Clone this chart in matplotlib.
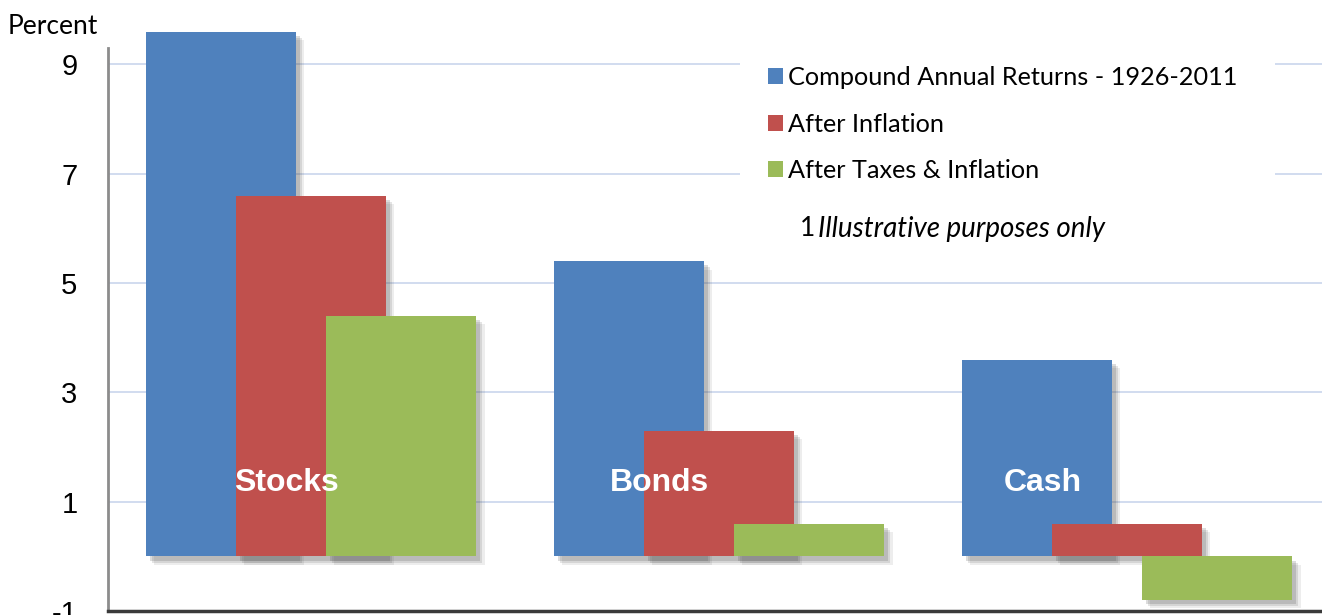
import matplotlib
matplotlib.use("Agg")
import matplotlib.pyplot as plt
import matplotlib.patheffects as pe
from matplotlib.patches import Rectangle
import numpy as np

categories = ["Stocks", "Bonds", "Cash"]
series_names = ["Compound Annual Returns - 1926-2011", "After Inflation", "After Taxes & Inflation"]
nominal = [9.6, 5.4, 3.6]
after_inflation = [6.6, 2.3, 0.6]
after_tax_inflation = [4.4, 0.6, -0.8]
yticks = [-1, 1, 3, 5, 7, 9]
note = "Illustrative purposes only"

colors = ["#4F81BD", "#C0504D", "#9BBB59"]

fig = plt.figure(figsize=(13.22, 6.15), dpi=100)
ax = fig.add_axes([108 / 1322, 4 / 615, 1 - 108 / 1322, 563 / 615])

x = np.arange(len(categories))
offset = 0.221
width = 0.368
shadow = [pe.SimplePatchShadow(offset=(6, -6), shadow_rgbFace="#505050", alpha=0.10),
          pe.SimplePatchShadow(offset=(4.5, -4.5), shadow_rgbFace="#505050", alpha=0.15),
          pe.SimplePatchShadow(offset=(3, -3), shadow_rgbFace="#505050", alpha=0.2),
          pe.Normal()]
handles = []
for i, (vals, name) in enumerate(zip([nominal, after_inflation, after_tax_inflation], series_names)):
    bars = ax.bar(x + (i - 1) * offset, vals, width=width, color=colors[i], label=name,
                  zorder=2 + i, clip_on=False)
    for b in bars:
        b.set_path_effects(shadow)
    handles.append(bars)

ax.set_xlim(-0.4975, 2.478)
ax.set_ylim(-1, 9.3)
ax.set_yticks(yticks)
ax.set_yticklabels([str(v) for v in yticks], fontsize=21, family="Liberation Sans")
ax.tick_params(axis="y", length=0, pad=22)
ax.set_xticks([])
ax.grid(axis="y", color="#c9d6ec", linewidth=1.2)
ax.set_axisbelow(True)
for s in ["top", "right"]:
    ax.spines[s].set_visible(False)
ax.spines["left"].set_color("#8c8c8c")
ax.spines["left"].set_linewidth(2)
ax.spines["bottom"].set_color("#3a3a3a")
ax.spines["bottom"].set_linewidth(2.5)

# category labels inside bars
label_x = [-0.061, 0.855, 1.794]
for lx, name in zip(label_x, categories):
    ax.text(lx, 1.34, name, color="white", fontsize=23, fontweight="bold",
            family="Liberation Sans", ha="center", va="center", zorder=10)

# white box behind legend
fig.patches.append(Rectangle((740 / 1322, 1 - 252 / 615), 535 / 1322, 200 / 615,
                             transform=fig.transFigure, facecolor="white", edgecolor="none", zorder=1))

leg = fig.legend(handles=handles, labels=series_names, loc="upper left",
                 bbox_to_anchor=(758 / 1322, 1 - 56 / 615), frameon=False,
                 prop={"family": "Lato", "size": 18.2}, handlelength=0.6, handleheight=0.6,
                 handletextpad=0.2, labelspacing=0.93, borderaxespad=0)
for h in leg.legend_handles:
    h.set_path_effects([])

fig.text(800 / 1322, 1 - 229 / 615, "1", fontsize=19, family="Lato", va="center", ha="left")
fig.text(818 / 1322, 1 - 229 / 615, note, fontsize=20, family="Lato", style="italic",
         va="center", ha="left")

fig.text(8 / 1322, 1 - 26 / 615, "Percent", fontsize=19, family="Lato", va="center", ha="left")

fig.savefig("out.png", dpi=100)
